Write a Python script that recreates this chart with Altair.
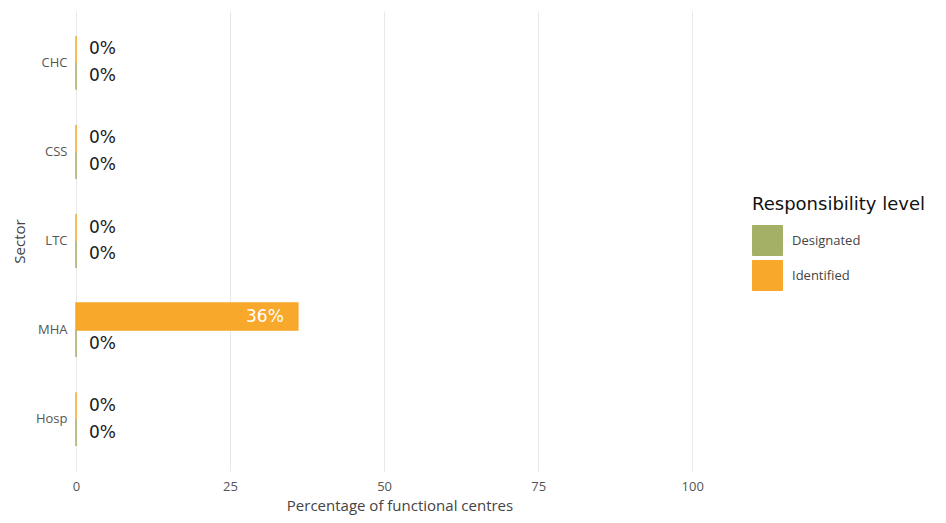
import altair as alt
import pandas as pd

sectors = ["CHC", "CSS", "LTC", "MHA", "Hosp"]
identified = [0, 0, 0, 36, 0]
designated = [0, 0, 0, 0, 0]
levels = ["Designated", "Identified"]
colors = ["#A3B065", "#F8A82A"]

rows = []
for s, i, d in zip(sectors, identified, designated):
    rows.append({"sector": s, "level": "Identified", "value": i, "label": f"{i}%"})
    rows.append({"sector": s, "level": "Designated", "value": d, "label": f"{d}%"})
df = pd.DataFrame(rows)

y_enc = alt.Y("sector:N", sort=sectors, title="Sector",
              scale=alt.Scale(paddingInner=0.395, paddingOuter=0.28),
              axis=alt.Axis(labelFont="Open Sans", labelFontSize=13, labelColor="#555555",
                            titleFont="Open Sans", titleFontSize=15, titleColor="#444444",
                            titleFontWeight="normal", ticks=False, domain=False,
                            labelPadding=9, titlePadding=8, grid=False))
yoff = alt.YOffset("level:N", sort=["Identified", "Designated"])
x_enc = alt.X("value:Q", title="Percentage of functional centres",
              scale=alt.Scale(domain=[0, 105], nice=False),
              axis=alt.Axis(values=[0, 25, 50, 75, 100], labelFont="Open Sans", labelFontSize=13,
                            labelColor="#555555", titleFont="Open Sans", titleFontSize=15,
                            titleColor="#444444", titleFontWeight="normal", ticks=False,
                            labelFlush=False,
                            domain=False, grid=True, gridColor="#E8E8E8", labelPadding=9,
                            titlePadding=5))

bars = alt.Chart(df).mark_bar(strokeWidth=1.5).encode(
    y=y_enc, yOffset=yoff, x=x_enc,
    color=alt.Color("level:N", scale=alt.Scale(domain=levels, range=colors),
                    title="Responsibility level",
                    legend=alt.Legend(orient="none", legendX=676, legendY=185,
                                      symbolType="square", symbolSize=900,
                                      symbolStrokeColor="#F2F2F2", symbolStrokeWidth=1,
                                      symbolOpacity=1,
                                      titleFont="DejaVu Sans", titleFontSize=18,
                                      titleFontWeight="normal", titleColor="#111111",
                                      labelFont="Open Sans", labelFontSize=13,
                                      labelColor="#444444", rowPadding=0,
                                      labelOffset=9, titlePadding=11)),
    stroke=alt.Stroke("level:N", scale=alt.Scale(domain=levels, range=colors), legend=None),
)

outside = alt.Chart(df).transform_filter("datum.value < 10").mark_text(
    align="left", baseline="middle", dx=13, fontSize=17, font="DejaVu Sans", color="#1a1a1a"
).encode(y=alt.Y("sector:N", sort=sectors), yOffset=yoff, x="value:Q", text="label:N")

inside = alt.Chart(df).transform_filter("datum.value >= 10").mark_text(
    align="right", baseline="middle", dx=-14, fontSize=17, font="DejaVu Sans", color="white"
).encode(y=alt.Y("sector:N", sort=sectors), yOffset=yoff, x="value:Q", text="label:N")

chart = alt.layer(bars, outside, inside).properties(
    width=647, height=460,
    autosize=alt.AutoSizeParams(type="none"),
    padding={"left": 68, "top": 3, "right": 205, "bottom": 44},
).configure_view(stroke=None)

chart.save("out.html", embed_options={"renderer": "svg", "actions": False})
